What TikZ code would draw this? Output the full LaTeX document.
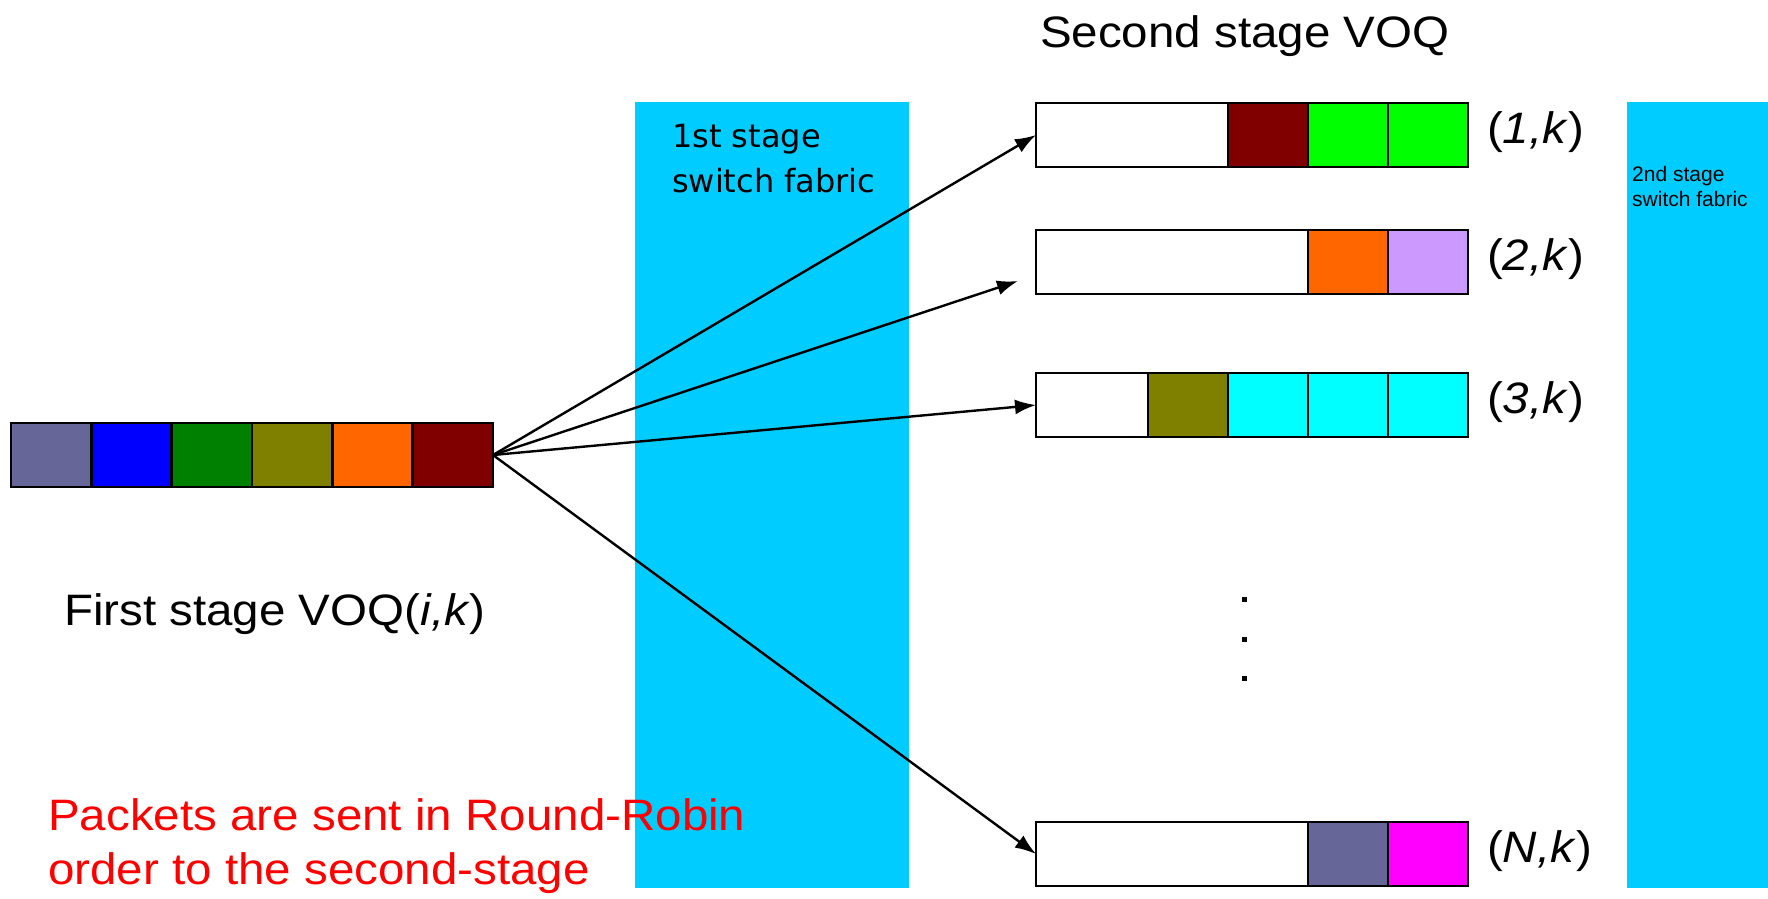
\documentclass[tikz,border=0pt]{standalone}
\usepackage{fontspec}
\setmainfont[FakeStretch=1.08]{Liberation Sans}
\newfontfamily\fabricfont{DejaVu Sans}
\newfontfamily\plainsans{Liberation Sans}
\usetikzlibrary{arrows.meta}

\definecolor{fabric}{HTML}{00CCFF}
\definecolor{slate}{HTML}{666699}
\definecolor{pblue}{HTML}{0000FF}
\definecolor{pgreen}{HTML}{008000}
\definecolor{polive}{HTML}{808000}
\definecolor{porange}{HTML}{FF6600}
\definecolor{pmaroon}{HTML}{800000}
\definecolor{plime}{HTML}{00FF00}
\definecolor{plavender}{HTML}{CC99FF}
\definecolor{pcyan}{HTML}{00FFFF}
\definecolor{pmagenta}{HTML}{FF00FF}

\begin{document}
\begin{tikzpicture}[x=1pt,y=-1pt,
  cell/.style={draw=black, line width=2.5pt, minimum height=64pt,
    minimum width=80pt, inner sep=0pt, outer sep=0pt, anchor=west},
  qcell/.style={cell, minimum width=80.33pt},
  fabricbox/.style={fill=fabric, draw=none},
  biglabel/.style={font=\fontsize{44}{52}\selectfont, inner sep=0pt,
    outer sep=0pt, anchor=base west},
  conn/.style={-{Latex[length=21pt,width=15pt]}, line width=2.4pt},
  dot/.style={fill=black, draw=none, minimum size=5pt, inner sep=0pt}
]
\useasboundingbox (0,0) rectangle (1768,898);

% switch fabrics
\fill[fabricbox] (635,102) rectangle (909,888);
\fill[fabricbox] (1627,102) rectangle (1768,888);
\node[font=\fabricfont\fontsize{32}{45}\selectfont, align=left, inner sep=0pt,
  anchor=north west] (fab1) at (672,124) {1st stage\\switch fabric};
\node[font=\plainsans\fontsize{21}{25}\selectfont, align=left, inner sep=0pt,
  anchor=north west] (fab2) at (1632,166) {2nd stage\\switch fabric};

% first stage VOQ
\node[qcell, fill=slate]    (q1) at (11,455) {};
\node[qcell, fill=pblue]    (q2) at (q1.east) {};
\node[qcell, fill=pgreen]   (q3) at (q2.east) {};
\node[qcell, fill=polive]   (q4) at (q3.east) {};
\node[qcell, fill=porange]  (q5) at (q4.east) {};
\node[qcell, fill=pmaroon]  (q6) at (q5.east) {};

% second stage VOQs
\node[cell, fill=white, minimum width=192pt] (a0) at (1036,135) {};
\node[cell, fill=pmaroon] (a1) at (a0.east) {};
\node[cell, fill=plime]   (a2) at (a1.east) {};
\node[cell, fill=plime]   (a3) at (a2.east) {};

\node[cell, fill=white, minimum width=272pt] (b0) at (1036,262) {};
\node[cell, fill=porange]   (b1) at (b0.east) {};
\node[cell, fill=plavender] (b2) at (b1.east) {};

\node[cell, fill=white, minimum width=112pt] (c0) at (1036,405) {};
\node[cell, fill=polive] (c1) at (c0.east) {};
\node[cell, fill=pcyan]  (c2) at (c1.east) {};
\node[cell, fill=pcyan]  (c3) at (c2.east) {};
\node[cell, fill=pcyan]  (c4) at (c3.east) {};

\node[cell, fill=white, minimum width=272pt] (n0) at (1036,854) {};
\node[cell, fill=slate]    (n1) at (n0.east) {};
\node[cell, fill=pmagenta] (n2) at (n1.east) {};

% row labels
\node[biglabel] (la) at (1487,143) {(\textit{1,k})};
\node[biglabel] (lb) at (1487,270) {(\textit{2,k})};
\node[biglabel] (lc) at (1487,413) {(\textit{3,k})};
\node[biglabel] (ln) at (1487,862) {(\textit{N,k})};

% vertical ellipsis
\node[dot] (d1) at (1244,599) {};
\node[dot] (d2) at (1244,639) {};
\node[dot] (d3) at (1244,678) {};

% round-robin distribution
\coordinate (b2end) at (1018,281);
\draw[conn] (q6.east) -- (a0.west);
\draw[conn] (q6.east) -- (b2end);
\draw[conn] (q6.east) -- (c0.west);
\draw[conn] (q6.east) -- (n0.west);

% captions
\node[biglabel] (title2) at (1040,47) {Second stage VOQ};
\node[biglabel] (title1) at (64,625) {First stage VOQ(\textit{i,k})};
\node[font=\fontsize{44}{54}\selectfont, text=red, align=left, inner sep=0pt,
  anchor=north west] (note) at (48,798)
  {Packets are sent in Round-Robin\\order to the second-stage};
\end{tikzpicture}
\end{document}
